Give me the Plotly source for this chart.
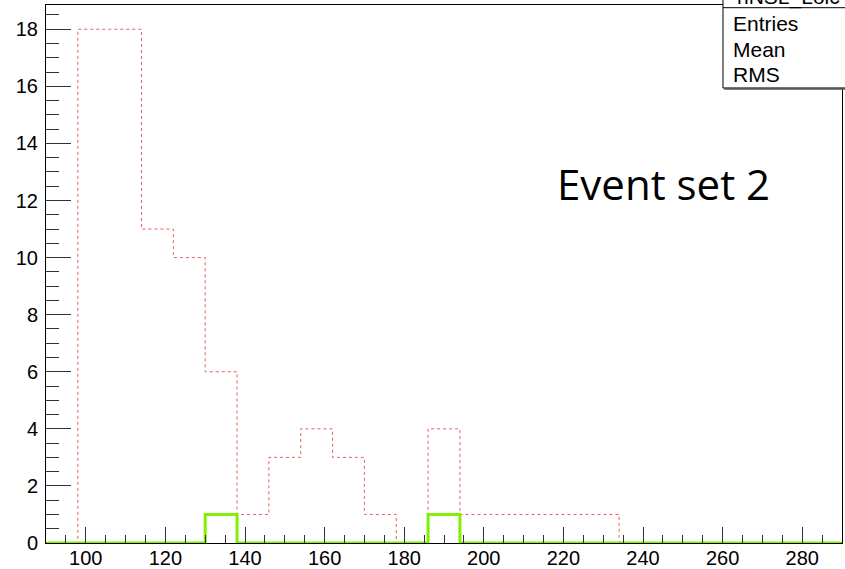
import plotly.graph_objects as go

# Histogram bins (width 8, from 90 to 290)
bin_edges = [90, 98, 106, 114, 122, 130, 138, 146, 154, 162, 170, 178, 186,
             194, 202, 210, 218, 226, 234, 242, 250, 258, 266, 274, 282, 290]

# Counts per bin
red_counts = [0, 18, 18, 11, 10, 6, 1, 3, 4, 3, 1, 0, 4,
              1, 1, 1, 1, 1, 0, 0, 0, 0, 0, 0, 0]
green_counts = [0, 0, 0, 0, 0, 1, 0, 0, 0, 0, 0, 0, 1,
                0, 0, 0, 0, 0, 0, 0, 0, 0, 0, 0, 0]

stats_labels = ["Entries", "Mean", "RMS"]
hist_name = "hNSL_Loic"
note_text = "Event set 2"

fig = go.Figure()

# step outlines like ROOT's default histogram drawing
fig.add_trace(go.Scatter(x=bin_edges, y=red_counts + [red_counts[-1]], mode="lines",
                         line=dict(shape="hv", color="#f25a5a", width=1, dash="3px,3px"),
                         hoverinfo="skip"))
fig.add_trace(go.Scatter(x=bin_edges, y=green_counts + [green_counts[-1]], mode="lines",
                         line=dict(shape="hv", color="#80f000", width=3),
                         hoverinfo="skip"))

axis_font = dict(family="Liberation Sans, Arial, sans-serif", size=20, color="black")

fig.update_xaxes(range=[90, 290], tickmode="linear", tick0=100, dtick=20,
                 ticks="inside", ticklen=16, tickcolor="#333", tickwidth=1,
                 minor=dict(ticks="inside", dtick=5, tick0=100, ticklen=8, tickcolor="#333"),
                 showline=True, linecolor="black", linewidth=1, mirror=True,
                 showgrid=False, zeroline=False, tickfont=axis_font, ticklabelstandoff=-3,
                 automargin=False)
fig.update_yaxes(range=[0, 18.85], tickmode="linear", tick0=0, dtick=2,
                 ticks="inside", ticklen=25, tickcolor="#333", tickwidth=1,
                 minor=dict(ticks="inside", dtick=0.5, tick0=0, ticklen=13, tickcolor="#333"),
                 showline=True, linecolor="black", linewidth=1, mirror=True,
                 showgrid=False, zeroline=False, tickfont=axis_font, ticklabelstandoff=3,
                 automargin=False)

# stats box in the top-right corner, partly out of the picture
fig.add_shape(type="rect", xref="paper", yref="paper", x0=0.8505, x1=1.02, y0=0.8457, y1=1.05,
              fillcolor="white", line=dict(color="black", width=1), layer="above")
fig.add_shape(type="line", xref="paper", yref="paper", x0=0.852, x1=1.02, y0=0.8445, y1=0.8445,
              line=dict(color="#555", width=2), layer="above")
fig.add_shape(type="line", xref="paper", yref="paper", x0=0.8505, x1=1.02, y0=0.995, y1=0.995,
              line=dict(color="black", width=1), layer="above")

stats_font = dict(family="Liberation Sans, Arial, sans-serif", size=21, color="black")
fig.add_annotation(text=hist_name, xref="paper", yref="paper", x=0.865, y=1.015,
                   xanchor="left", yanchor="middle", showarrow=False, font=stats_font)
for i, lab in enumerate(stats_labels):
    fig.add_annotation(text=lab, xref="paper", yref="paper", x=0.861, y=0.965 - i * 0.0475,
                       xanchor="left", yanchor="middle", showarrow=False, font=stats_font)

fig.add_annotation(text=note_text, xref="paper", yref="paper", x=0.776, y=0.669,
                   xanchor="center", yanchor="middle", showarrow=False,
                   font=dict(family="Open Sans, sans-serif", size=42, color="black"))

fig.update_layout(width=845, height=569, margin=dict(l=46, r=3, t=5, b=26, autoexpand=False),
                  plot_bgcolor="white", paper_bgcolor="white", showlegend=False)

# drop the page's default body margin so the figure sits at the window corner
fig.write_html("out.html", config={"displayModeBar": False},
               post_script="document.body.style.margin='0';")
